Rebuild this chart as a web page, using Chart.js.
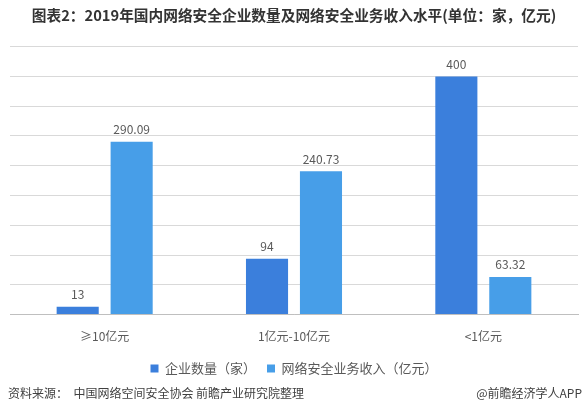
<!DOCTYPE html>
<html>
<head>
<meta charset="utf-8">
<script src="https://cdn.jsdelivr.net/npm/chart.js@4"></script>
<style>
  html, body { margin: 0; padding: 0; background: #fff; }
  #wrap { width: 588px; height: 405px; position: relative; }
</style>
</head>
<body>
<div id="wrap"><canvas id="chart"></canvas></div>
<script>
const categories = ['≥10亿元', '1亿元-10亿元', '<1亿元'];
const companyCount = [13, 94, 400];
const revenue = [290.09, 240.73, 63.32];
const seriesNames = ['企业数量（家）', '网络安全业务收入（亿元）'];

const FONT = '"Microsoft YaHei", "Noto Sans CJK SC", sans-serif';

// value labels above each bar
const valueLabels = {
  id: 'valueLabels',
  afterDatasetsDraw(chart) {
    const ctx = chart.ctx;
    ctx.save();
    ctx.font = '12px ' + FONT;
    ctx.fillStyle = '#595959';
    ctx.textAlign = 'center';
    ctx.textBaseline = 'bottom';
    chart.data.datasets.forEach((ds, i) => {
      chart.getDatasetMeta(i).data.forEach((bar, j) => {
        ctx.fillText(String(ds.data[j]), bar.x, bar.y - 6);
      });
    });
    ctx.restore();
  }
};

// source line at the bottom
const sourceLine = {
  id: 'sourceLine',
  afterDraw(chart) {
    const ctx = chart.ctx;
    ctx.save();
    ctx.font = '12px ' + FONT;
    ctx.fillStyle = '#404040';
    ctx.textBaseline = 'middle';
    ctx.textAlign = 'left';
    ctx.fillText('资料来源：  中国网络空间安全协会 前瞻产业研究院整理', 8, 393);
    ctx.textAlign = 'right';
    ctx.fillText('@前瞻经济学人APP', 582, 393);
    ctx.restore();
  }
};

new Chart(document.getElementById('chart'), {
  type: 'bar',
  data: {
    labels: categories,
    datasets: [
      {
        label: seriesNames[0],
        data: companyCount,
        backgroundColor: '#3b7fdc',
        barPercentage: 0.78,
        categoryPercentage: 0.57
      },
      {
        label: seriesNames[1],
        data: revenue,
        backgroundColor: '#479ee8',
        barPercentage: 0.78,
        categoryPercentage: 0.57
      }
    ]
  },
  options: {
    responsive: true,
    maintainAspectRatio: false,
    animation: false,
    layout: { padding: { left: 10, right: 10, top: 0, bottom: 20 } },
    scales: {
      x: {
        grid: { display: false },
        border: { color: '#bfbfbf' },
        ticks: { color: '#595959', font: { size: 12, family: FONT }, padding: 7 }
      },
      y: {
        min: 0,
        max: 450,
        ticks: { display: false, stepSize: 50 },
        grid: { color: '#d9d9d9', drawTicks: false },
        border: { display: false }
      }
    },
    plugins: {
      title: {
        display: true,
        text: '图表2：2019年国内网络安全企业数量及网络安全业务收入水平(单位：家，亿元)',
        color: '#333333',
        font: { size: 14.7, weight: 'bold', family: FONT },
        padding: { top: 7, bottom: 22 }
      },
      legend: {
        position: 'bottom',
        labels: {
          color: '#595959',
          font: { size: 13, family: FONT },
          boxWidth: 8,
          boxHeight: 8,
          padding: 11
        }
      },
      tooltip: { enabled: false }
    }
  },
  plugins: [valueLabels, sourceLine]
});
</script>
</body>
</html>
